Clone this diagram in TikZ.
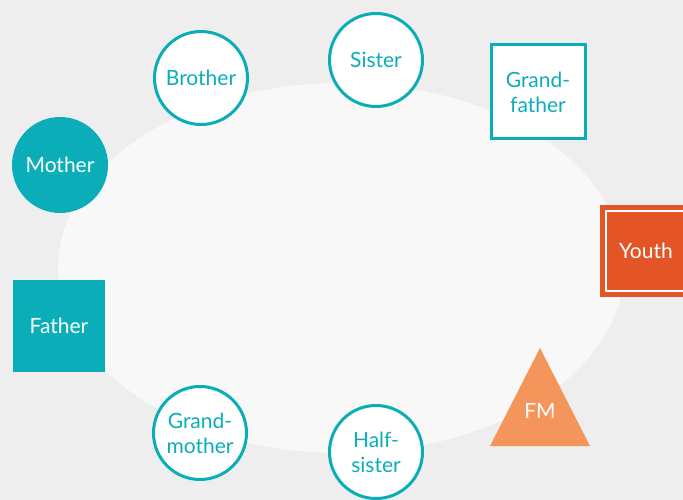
\documentclass[tikz,border=0pt]{standalone}
\usepackage{fontspec}
\setmainfont{Lato}
\usepackage{tikz}
\usetikzlibrary{positioning}
\definecolor{bgray}{HTML}{EEEEEE}
\definecolor{ovalgray}{HTML}{F8F8F9}
\definecolor{famteal}{HTML}{0BAEB8}
\definecolor{youthorange}{HTML}{E35526}
\definecolor{fmorange}{HTML}{F4965B}

\begin{document}
\begin{tikzpicture}[x=1pt,y=-1pt,font=\fontsize{21}{25}\selectfont,
  member/.style={circle, draw=famteal, line width=3pt, fill=white, text=famteal,
    minimum size=93pt, inner sep=0pt, align=center},
  memberbox/.style={rectangle, draw=famteal, line width=3pt, fill=white, text=famteal,
    minimum size=94pt, inner sep=0pt, align=center},
  filled/.style={fill=famteal, text=white}]
  \useasboundingbox (0,0) rectangle (683,500);
  \clip (0,0) rectangle (683,500);
  \fill[bgray] (0,0) rectangle (683,500);
  \fill[ovalgray] (341,268) ellipse [x radius=283, y radius=185];
  % family around the youth
  \node[member] (brother) at (201,78) {Brother};
  \node[member] (sister) at (376,60) {Sister};
  \node[memberbox] (gfather) at (538,92) {Grand-\\father};
  \node[member, filled] (mother) at (60,165) {Mother};
  \node[memberbox, filled, minimum size=91pt, line width=0pt] (father) at (59,326) {Father};
  \node[member] (gmother) at (200,433) {Grand-\\mother};
  \node[member] (hsister) at (376,452) {Half-\\sister};
  \node[rectangle, draw=youthorange, line width=5pt, double=white, double distance=2pt,
    fill=youthorange, text=white, minimum size=80pt, inner sep=0pt] (youth) at (646,250.5) {Youth};
  \fill[fmorange] (540,348) -- (590,446) -- (490,446) -- cycle;
  \node[text=white] (fm) at (540,411) {FM};
\end{tikzpicture}
\end{document}
